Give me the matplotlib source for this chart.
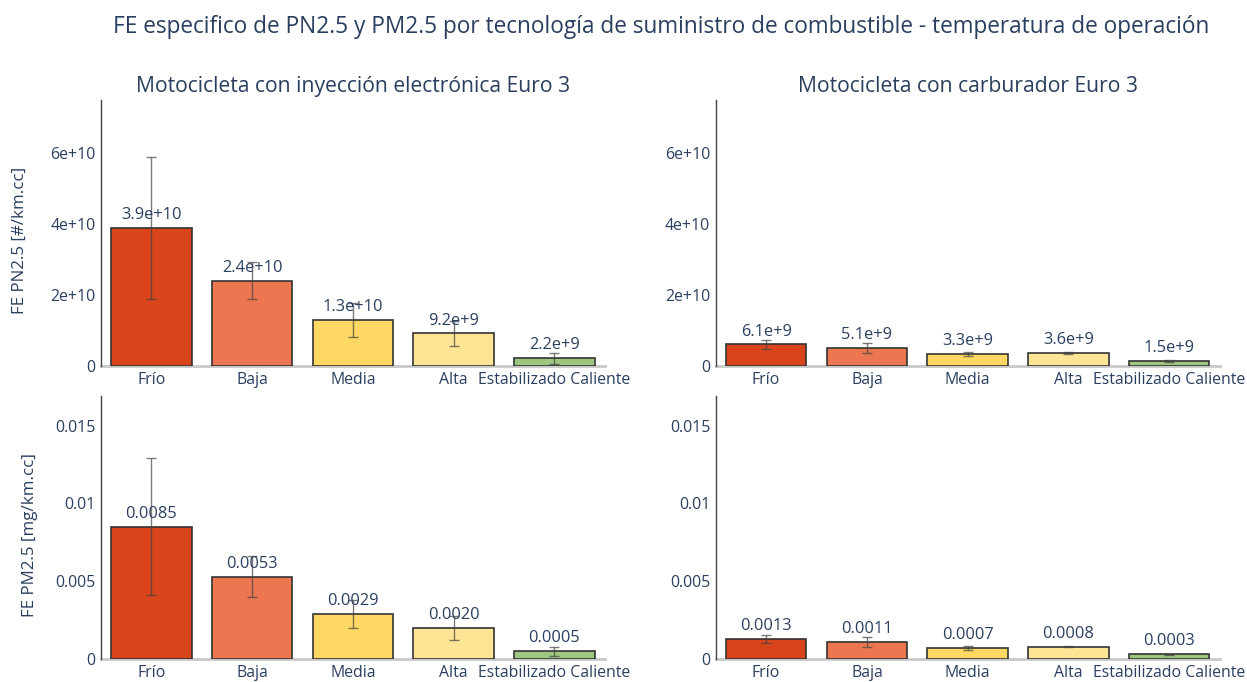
import matplotlib.pyplot as plt
import numpy as np

plt.rcParams['font.family'] = ['Open Sans', 'DejaVu Sans']

categorias = ['Frío', 'Baja', 'Media', 'Alta', 'Estabilizado Caliente']
colores = ['#d9441a', '#ec7650', '#fed862', '#fee596', '#9dc67f']

# FE de número de partículas PN2.5 [#/km.cc]
pn_inyeccion = [3.9e10, 2.4e10, 1.3e10, 9.2e9, 2.2e9]
pn_inyeccion_err = [2.0e10, 0.52e10, 0.49e10, 0.35e10, 0.15e10]
pn_carburador = [6.1e9, 5.1e9, 3.3e9, 3.6e9, 1.5e9]
pn_carburador_err = [1.2e9, 1.5e9, 0.6e9, 0.3e9, 0.3e9]

# FE de masa PM2.5 [mg/km.cc]
pm_inyeccion = [0.0085, 0.0053, 0.0029, 0.0020, 0.0005]
pm_inyeccion_err = [0.0044, 0.0013, 0.0009, 0.00075, 0.0003]
pm_carburador = [0.0013, 0.0011, 0.0007, 0.0008, 0.0003]
pm_carburador_err = [0.00025, 0.0003, 0.00012, 0.00005, 0.00005]

pn_ticks = [0, 2e10, 4e10, 6e10]
pn_ticklabels = ['0', '2e+10', '4e+10', '6e+10']
pm_ticks = [0, 0.005, 0.01, 0.015]
pm_ticklabels = ['0', '0.005', '0.01', '0.015']

titulo = 'FE especifico de PN2.5 y PM2.5 por tecnología de suministro de combustible - temperatura de operación'
subtitulos = ['Motocicleta con inyección electrónica Euro 3', 'Motocicleta con carburador Euro 3']

TXT = '#2a3f5f'


def fmt_pn(v):
    mant, exp = f'{v:.1e}'.split('e')
    return f'{mant}e+{int(exp)}'


def fmt_pm(v):
    return f'{v:.4f}'


fig = plt.figure(figsize=(12.47, 6.82), dpi=100)
fig.patch.set_facecolor('white')

left_x = [0.081, 0.574]
w = 0.404
rows = [(0.4633, 0.390), (0.0337, 0.3856)]

paneles = [
    (0, 0, pn_inyeccion, pn_inyeccion_err, pn_ticks, pn_ticklabels, 7.5e10, fmt_pn),
    (0, 1, pn_carburador, pn_carburador_err, pn_ticks, pn_ticklabels, 7.5e10, fmt_pn),
    (1, 0, pm_inyeccion, pm_inyeccion_err, pm_ticks, pm_ticklabels, 0.0169, fmt_pm),
    (1, 1, pm_carburador, pm_carburador_err, pm_ticks, pm_ticklabels, 0.0169, fmt_pm),
]

x = np.arange(len(categorias))
for fila, col, vals, errs, ticks, ticklabels, ymax, fmt in paneles:
    b, h = rows[fila]
    ax = fig.add_axes([left_x[col], b, w, h])
    ax.bar(x, vals, width=0.8, color=colores, edgecolor='#333333', linewidth=1.2, zorder=2)
    ax.errorbar(x, vals, yerr=errs, fmt='none', ecolor='#444444', alpha=0.7,
                elinewidth=1, capsize=3.5, capthick=1, zorder=3)
    for xi, v in zip(x, vals):
        ax.annotate(fmt(v), (xi, v), xytext=(0, 3.5), textcoords='offset points',
                    ha='center', va='bottom', fontsize=11.8, color=TXT, zorder=4)
    ax.set_xlim(-0.5, 4.5)
    ax.set_ylim(0, ymax)
    ax.set_xticks(x)
    ax.set_xticklabels(categorias)
    ax.set_yticks(ticks)
    ax.set_yticklabels(ticklabels)
    ax.tick_params(axis='both', length=0, labelsize=11.4, labelcolor=TXT)
    ax.tick_params(axis='x', pad=4)
    ax.tick_params(axis='y', pad=4)
    for s in ['top', 'right']:
        ax.spines[s].set_visible(False)
    ax.spines['left'].set_color('#444444')
    ax.spines['left'].set_linewidth(1.0)
    ax.spines['bottom'].set_color('#c8c8c8')
    ax.spines['bottom'].set_linewidth(2.0)
    ax.spines['bottom'].set_zorder(1)
    if fila == 0:
        ax.set_title(subtitulos[col], fontsize=15.2, color=TXT, pad=6)

fig.text(0.530, 0.960, titulo, ha='center', va='center', fontsize=16.3, color=TXT)
fig.text(0.016, 0.648, 'FE PN2.5 [#/km.cc]', rotation=90, ha='center', va='center',
         fontsize=12.2, color=TXT)
fig.text(0.024, 0.2155, 'FE PM2.5 [mg/km.cc]', rotation=90, ha='center', va='center',
         fontsize=12.2, color=TXT)

fig.savefig('out.png', dpi=100, facecolor='white')
